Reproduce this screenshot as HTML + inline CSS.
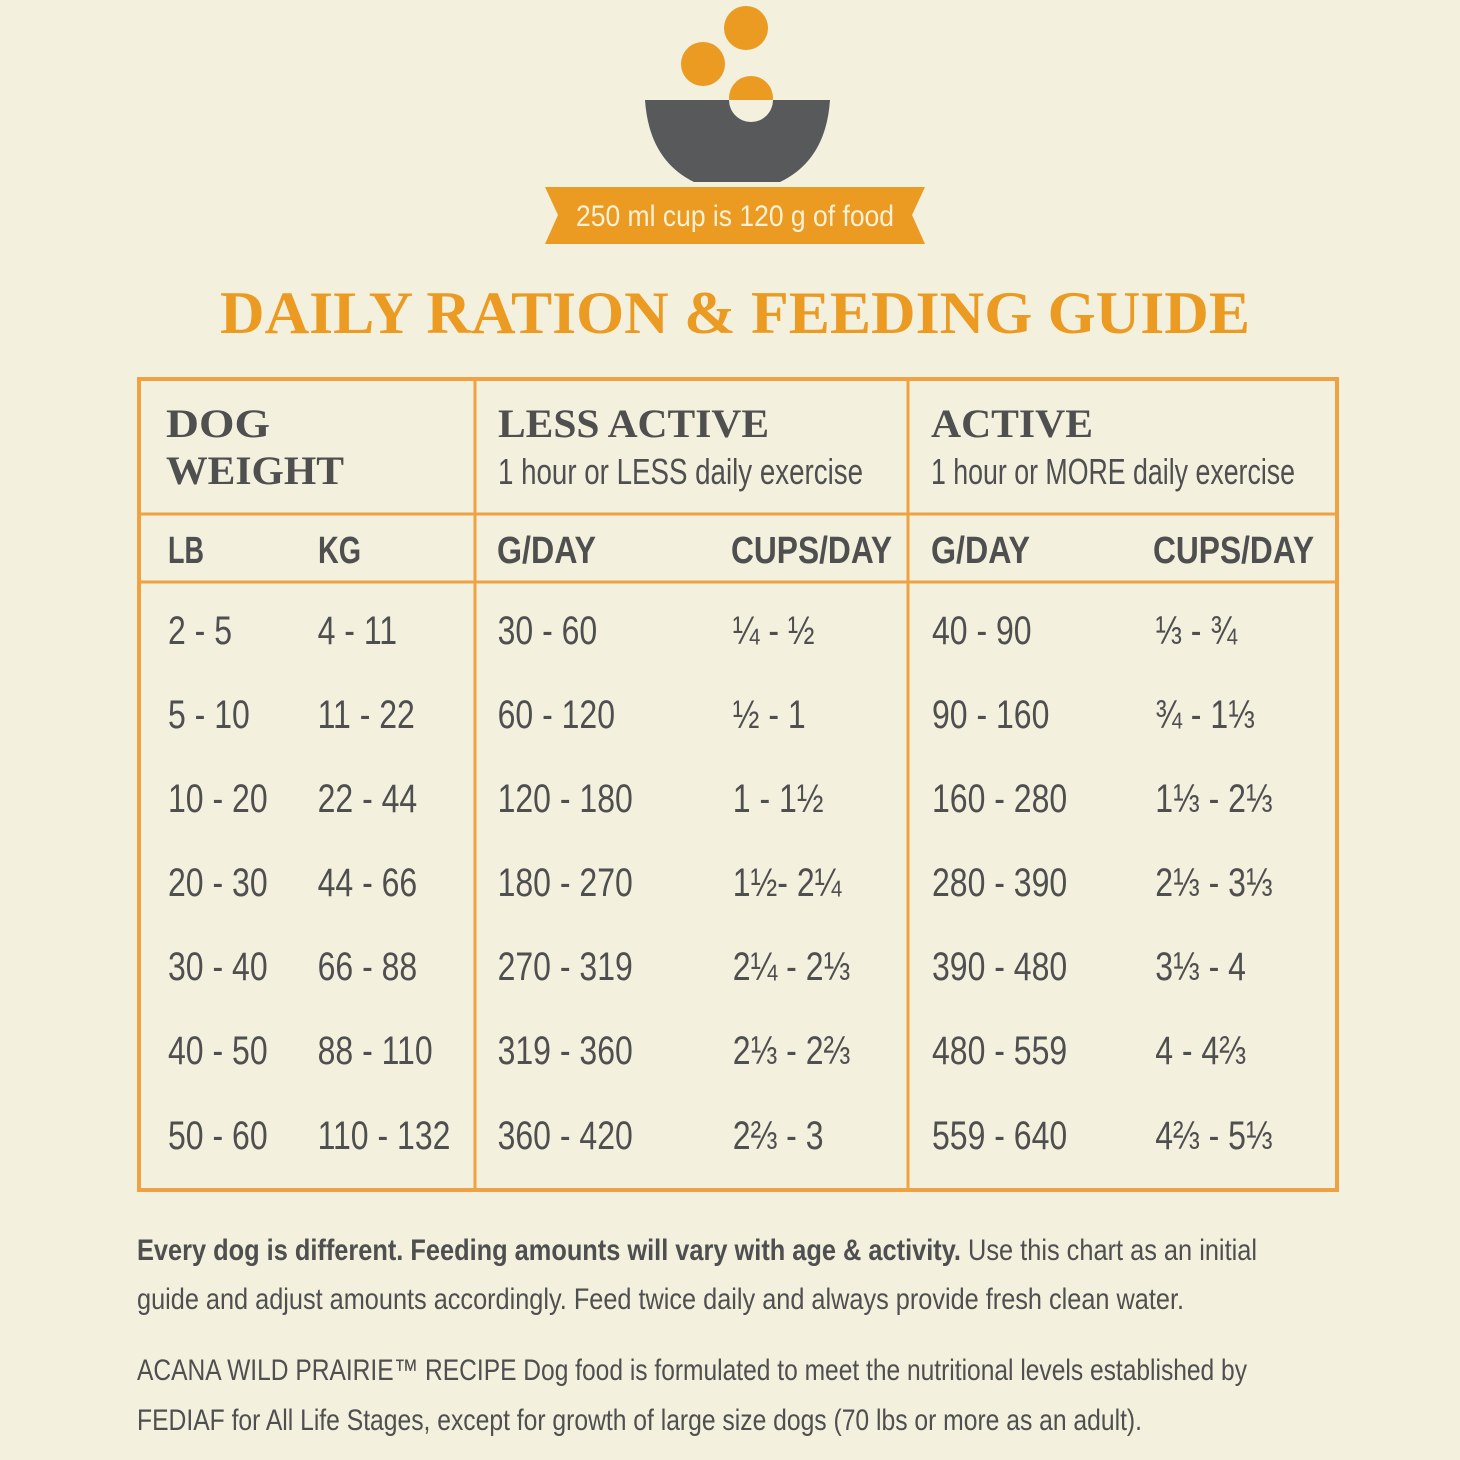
<!DOCTYPE html>
<html><head><meta charset="utf-8"><style>
html,body{margin:0;padding:0;background:#f3f0de;}
svg{display:block}
.d{font-family:"Liberation Sans",sans-serif;font-size:40px;fill:#4f4f4f;}
.h{font-family:"Liberation Sans",sans-serif;font-size:38px;font-weight:bold;fill:#4f4f4f;}
.s{font-family:"Liberation Serif",serif;font-weight:bold;fill:#4f4f4f;}
.f{font-family:"Liberation Sans",sans-serif;font-size:30px;fill:#4f4f4f;}
</style></head><body>
<svg width="1460" height="1460" viewBox="0 0 1460 1460" xmlns="http://www.w3.org/2000/svg">
<rect width="1460" height="1460" fill="#f3f0de"/>
<!-- icon -->
<circle cx="746" cy="28" r="22" fill="#eb9a22"/>
<circle cx="703" cy="64" r="22" fill="#eb9a22"/>
<circle cx="751" cy="98" r="22" fill="#eb9a22"/>
<path d="M645,100 L830,100 Q826,160 780,182 L694,182 Q649,160 645,100 Z" fill="#58595b"/>
<path d="M729,100 A22,22 0 0 0 773,100 Z" fill="#f3f0de"/>
<path d="M545,187 L925,187 L912,215 L925,244 L545,244 L558,215 Z" fill="#eb9a22"/>
<text x="735" y="226" text-anchor="middle" font-family="Liberation Sans,sans-serif" font-size="30" fill="#fbf1d6" textLength="318" lengthAdjust="spacingAndGlyphs">250 ml cup is 120 g of food</text>
<!-- title -->
<text x="220" y="333" class="s" font-size="60" fill="#eb9a22" style="fill:#eb9a22" textLength="1030" lengthAdjust="spacingAndGlyphs">DAILY RATION &amp; FEEDING GUIDE</text>
<!-- table -->
<g stroke="#efa243" fill="none">
<rect x="139" y="379" width="1198" height="811" stroke-width="4"/>
<line x1="475" y1="379" x2="475" y2="1190" stroke-width="3"/>
<line x1="908" y1="379" x2="908" y2="1190" stroke-width="3"/>
<line x1="139" y1="514" x2="1337" y2="514" stroke-width="3"/>
<line x1="139" y1="582" x2="1337" y2="582" stroke-width="3"/>
</g>
<text x="166" y="437" class="s" font-size="40" textLength="104" lengthAdjust="spacingAndGlyphs">DOG</text>
<text x="166" y="484" class="s" font-size="40" textLength="178" lengthAdjust="spacingAndGlyphs">WEIGHT</text>
<text x="498" y="437" class="s" font-size="40" textLength="271" lengthAdjust="spacingAndGlyphs">LESS ACTIVE</text>
<text x="931" y="437" class="s" font-size="40" textLength="162" lengthAdjust="spacingAndGlyphs">ACTIVE</text>
<text x="498" y="484" class="d" font-size="36" style="font-size:36px" textLength="365" lengthAdjust="spacingAndGlyphs">1 hour or LESS daily exercise</text>
<text x="931" y="484" class="d" font-size="36" style="font-size:36px" textLength="364" lengthAdjust="spacingAndGlyphs">1 hour or MORE daily exercise</text>
<text x="168" y="563" class="h" textLength="36" lengthAdjust="spacingAndGlyphs">LB</text>
<text x="318" y="563" class="h" textLength="43" lengthAdjust="spacingAndGlyphs">KG</text>
<text x="497" y="563" class="h" textLength="99" lengthAdjust="spacingAndGlyphs">G/DAY</text>
<text x="731" y="563" class="h" textLength="161" lengthAdjust="spacingAndGlyphs">CUPS/DAY</text>
<text x="931" y="563" class="h" textLength="99" lengthAdjust="spacingAndGlyphs">G/DAY</text>
<text x="1153" y="563" class="h" textLength="161" lengthAdjust="spacingAndGlyphs">CUPS/DAY</text>
<g transform="scale(0.8,1)" class="d">
<g>
<text x="210" y="644">2 - 5</text><text x="397" y="644">4 - 11</text><text x="622" y="644">30 - 60</text><text x="916" y="644">¼ - ½</text><text x="1165" y="644">40 - 90</text><text x="1444" y="644">⅓ - ¾</text>
<text x="210" y="728">5 - 10</text><text x="397" y="728">11 - 22</text><text x="622" y="728">60 - 120</text><text x="916" y="728">½ - 1</text><text x="1165" y="728">90 - 160</text><text x="1444" y="728">¾ - 1⅓</text>
<text x="210" y="812">10 - 20</text><text x="397" y="812">22 - 44</text><text x="622" y="812">120 - 180</text><text x="916" y="812">1 - 1½</text><text x="1165" y="812">160 - 280</text><text x="1444" y="812">1⅓ - 2⅓</text>
<text x="210" y="896">20 - 30</text><text x="397" y="896">44 - 66</text><text x="622" y="896">180 - 270</text><text x="916" y="896">1½- 2¼</text><text x="1165" y="896">280 - 390</text><text x="1444" y="896">2⅓ - 3⅓</text>
<text x="210" y="980">30 - 40</text><text x="397" y="980">66 - 88</text><text x="622" y="980">270 - 319</text><text x="916" y="980">2¼ - 2⅓</text><text x="1165" y="980">390 - 480</text><text x="1444" y="980">3⅓ - 4</text>
<text x="210" y="1064">40 - 50</text><text x="397" y="1064">88 - 110</text><text x="622" y="1064">319 - 360</text><text x="916" y="1064">2⅓ - 2⅔</text><text x="1165" y="1064">480 - 559</text><text x="1444" y="1064">4 - 4⅔</text>
<text x="210" y="1149">50 - 60</text><text x="397" y="1149">110 - 132</text><text x="622" y="1149">360 - 420</text><text x="916" y="1149">2⅔ - 3</text><text x="1165" y="1149">559 - 640</text><text x="1444" y="1149">4⅔ - 5⅓</text>
</g></g>
<!-- footer -->
<text x="137" y="1260" class="f" textLength="1120" lengthAdjust="spacingAndGlyphs"><tspan font-weight="bold">Every dog is different. Feeding amounts will vary with age &amp; activity.</tspan> Use this chart as an initial</text>
<text x="137" y="1309" class="f" textLength="1047" lengthAdjust="spacingAndGlyphs">guide and adjust amounts accordingly. Feed twice daily and always provide fresh clean water.</text>
<text x="137" y="1380" class="f" textLength="1110" lengthAdjust="spacingAndGlyphs">ACANA WILD PRAIRIE™ RECIPE Dog food is formulated to meet the nutritional levels established by</text>
<text x="137" y="1430" class="f" textLength="1005" lengthAdjust="spacingAndGlyphs">FEDIAF for All Life Stages, except for growth of large size dogs (70 lbs or more as an adult).</text>
</svg>
</body></html>
